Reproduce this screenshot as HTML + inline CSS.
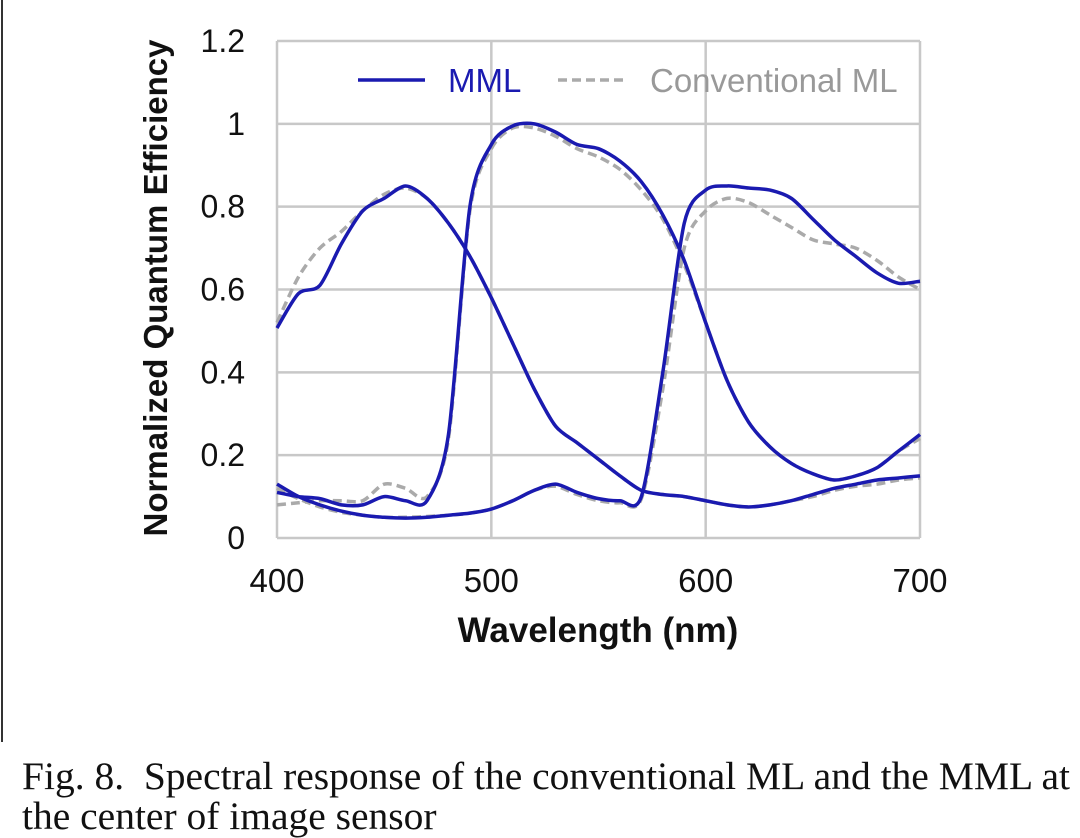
<!DOCTYPE html>
<html><head><meta charset="utf-8"><style>
html,body{margin:0;padding:0;background:#fff;}
body{width:1080px;height:828px;overflow:hidden;position:relative;font-family:"Liberation Sans",Arial,sans-serif;}
#frame{position:absolute;left:1px;top:0;width:2px;height:742px;background:#333;}
#cap{position:absolute;left:22px;top:756px;font-family:"Liberation Serif","Times New Roman",serif;font-size:39.5px;line-height:40px;color:#111;white-space:nowrap;}
</style></head><body>
<div id="frame"></div>
<svg id="chart" width="1080" height="750" style="position:absolute;left:0;top:0"></svg>
<div id="cap">Fig. 8.&nbsp; Spectral response of the conventional ML and the MML at<br>the center of image sensor</div>
<script>
const wl=[400,410,420,430,440,450,460,470,480,490,500,510,520,530,540,550,560,570,580,590,600,610,620,630,640,650,660,670,680,690,700];
const mmlBlue=[0.507,0.59,0.61,0.71,0.79,0.82,0.85,0.82,0.76,0.68,0.58,0.47,0.36,0.27,0.23,0.19,0.15,0.115,0.105,0.10,0.09,0.08,0.075,0.08,0.09,0.105,0.12,0.13,0.14,0.145,0.15];
const convBlue=[0.52,0.63,0.70,0.74,0.79,0.83,0.845,0.82,0.76,0.68,0.58,0.47,0.36,0.27,0.23,0.19,0.15,0.115,0.105,0.10,0.09,0.08,0.075,0.08,0.09,0.10,0.115,0.125,0.13,0.14,0.145];
const mmlGreen=[0.11,0.10,0.095,0.08,0.08,0.10,0.09,0.09,0.25,0.80,0.95,0.995,1.0,0.98,0.95,0.94,0.91,0.86,0.78,0.67,0.52,0.38,0.28,0.22,0.18,0.155,0.14,0.15,0.17,0.21,0.25];
const convGreen=[0.08,0.085,0.09,0.09,0.09,0.13,0.12,0.10,0.24,0.79,0.94,0.99,0.99,0.97,0.94,0.92,0.89,0.84,0.77,0.66,0.52,0.38,0.28,0.22,0.18,0.155,0.14,0.15,0.17,0.21,0.24];
const mmlRed=[0.13,0.10,0.08,0.065,0.055,0.05,0.048,0.05,0.055,0.06,0.07,0.09,0.115,0.13,0.11,0.095,0.09,0.10,0.40,0.76,0.84,0.85,0.845,0.84,0.82,0.77,0.72,0.68,0.64,0.615,0.62];
const convRed=[0.12,0.095,0.075,0.062,0.055,0.05,0.05,0.052,0.055,0.06,0.07,0.09,0.115,0.125,0.105,0.09,0.085,0.095,0.36,0.70,0.79,0.82,0.81,0.78,0.75,0.72,0.71,0.70,0.67,0.63,0.60];
const xTicks=[400,500,600,700];
const yTicks=[0,0.2,0.4,0.6,0.8,1,1.2];
const yTickLabels=["0","0.2","0.4","0.6","0.8","1","1.2"];

const NS="http://www.w3.org/2000/svg";
const svg=document.getElementById('chart');
const X0=277,X1=920,Y0=538,Y1=41;
const xs=w=>X0+(w-400)/300*(X1-X0);
const ys=v=>Y0-v/1.2*(Y0-Y1);
function mk(t,a,p){const e=document.createElementNS(NS,t);for(const k in a)e.setAttribute(k,a[k]);(p||svg).appendChild(e);return e;}

yTicks.forEach((v,i)=>{
  const g=mk('line',{x1:X0,x2:X1,y1:ys(v),y2:ys(v),stroke:'#c8c8c8','stroke-width':2.5});
  
  
  const t=mk('text',{x:245,y:ys(v)+11,'text-anchor':'end','font-size':32,fill:'#111'});
  t.textContent=yTickLabels[i];
  
  
});
xTicks.forEach(w=>{
  const g=mk('line',{x1:xs(w),x2:xs(w),y1:Y1,y2:Y0,stroke:'#c8c8c8','stroke-width':2.5});
  
  
  const t=mk('text',{x:xs(w),y:592,'text-anchor':'middle','font-size':33,fill:'#111'});
  t.textContent=w;
  
  
});

function path(vals){
  const p=wl.map((w,i)=>[xs(w),ys(vals[i])]);
  let d='M'+p[0][0]+','+p[0][1];
  for(let i=0;i<p.length-1;i++){
    const a=p[i-1]||p[i],b=p[i],c=p[i+1],e=p[i+2]||c;
    d+=' C'+(b[0]+(c[0]-a[0])/7)+','+(b[1]+(c[1]-a[1])/7)+' '+(c[0]-(e[0]-b[0])/7)+','+(c[1]-(e[1]-b[1])/7)+' '+c[0]+','+c[1];
  }
  return d;
}
[[convBlue,'conv-blue'],[convGreen,'conv-green'],[convRed,'conv-red']].forEach(([v,n])=>{
  const l=mk('path',{d:path(v),fill:'none',stroke:'#aaaaaa','stroke-width':3.5,'stroke-dasharray':'9,5'});
  
  
});
[[mmlBlue,'mml-blue'],[mmlGreen,'mml-green'],[mmlRed,'mml-red']].forEach(([v,n])=>{
  const l=mk('path',{d:path(v),fill:'none',stroke:'#1a1ab0','stroke-width':3.5});
  
  
});

let e;
e=mk('line',{x1:358,x2:425,y1:80,y2:80,stroke:'#1a1ab0','stroke-width':3.5});

e=mk('text',{x:448,y:92,'font-size':33,fill:'#1a1ab0'});e.textContent='MML';

e=mk('line',{x1:558,x2:625,y1:80,y2:80,stroke:'#aaaaaa','stroke-width':3.5,'stroke-dasharray':'9,5'});

e=mk('text',{x:650,y:92,'font-size':33,fill:'#999'});e.textContent='Conventional ML';


e=mk('text',{x:598,y:642,'text-anchor':'middle','font-size':35,'font-weight':'bold',fill:'#111'});e.textContent='Wavelength (nm)';

e=mk('text',{x:0,y:0,'text-anchor':'middle','font-size':33,'font-weight':'bold',fill:'#111',transform:'translate(167,288) rotate(-90)'});e.textContent='Normalized Quantum Efficiency';

</script>
</body></html>
